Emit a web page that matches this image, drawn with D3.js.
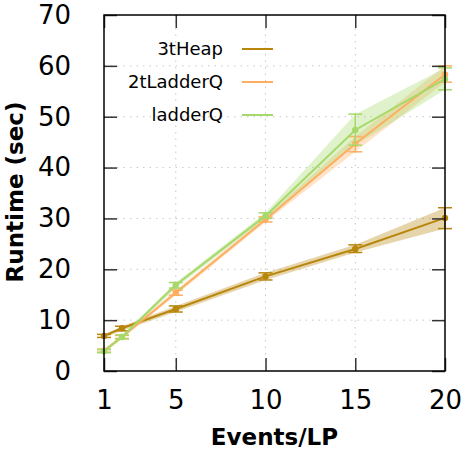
<!DOCTYPE html>
<html><head><meta charset="utf-8">
<script src="https://cdn.jsdelivr.net/npm/d3@7"></script>
<style>body{margin:0;background:#fff}svg{display:block}</style>
</head><body>
<svg id="c" width="467" height="450"></svg>
<script>
const xs = [1, 2, 5, 10, 15, 20];
const seriesNames = ["3tHeap", "2tLadderQ", "ladderQ"];
const heapMean = [6.9, 8.4, 12.2, 18.6, 24.0, 30.1];
const heapLo   = [6.6, 7.9, 11.6, 17.9, 23.3, 28.0];
const heapHi   = [7.2, 8.8, 12.8, 19.3, 24.8, 32.1];
const tlqMean  = [4.0, 6.7, 15.4, 29.8, 44.7, 58.3];
const tlqLo    = [3.7, 6.4, 14.9, 29.3, 43.1, 56.8];
const tlqHi    = [4.3, 7.0, 15.9, 30.3, 46.1, 60.0];
const lqMean   = [3.9, 6.7, 16.9, 30.5, 47.4, 57.4];
const lqLo     = [3.6, 6.3, 16.3, 30.0, 44.4, 55.3];
const lqHi     = [4.2, 7.1, 17.4, 31.1, 50.5, 59.6];
const xTicks = [1, 5, 10, 15, 20];
const yTicks = [0, 10, 20, 30, 40, 50, 60, 70];
const colors = ["#b8860b", "#fdae61", "#a6d96a"];

const series = [
  {name: seriesNames[0], mean: heapMean, lo: heapLo, hi: heapHi, color: colors[0]},
  {name: seriesNames[1], mean: tlqMean, lo: tlqLo, hi: tlqHi, color: colors[1]},
  {name: seriesNames[2], mean: lqMean, lo: lqLo, hi: lqHi, color: colors[2]}
];

const L = 104, R = 445, T = 15, B = 371;
const svg = d3.select("#c");
const x = d3.scaleLinear().domain([1, 20]).range([L, R]);
const y = d3.scaleLinear().domain([0, 70]).range([B, T]);
const font = "DejaVu Sans";

// grid
const g = svg.append("g");
g.selectAll(".gx").data(xTicks.slice(1, -1)).enter().append("line")
  .attr("x1", d => x(d)).attr("x2", d => x(d)).attr("y1", T).attr("y2", B)
  .attr("stroke", "#c8c8c8").attr("stroke-width", 1).attr("stroke-dasharray", "1.5,5");
g.selectAll(".gy").data(yTicks.slice(1, -1)).enter().append("line")
  .attr("y1", d => y(d)).attr("y2", d => y(d)).attr("x1", L).attr("x2", R)
  .attr("stroke", "#c8c8c8").attr("stroke-width", 1).attr("stroke-dasharray", "1.5,5");

// bands
series.forEach(s => {
  const area = d3.area().x((d, i) => x(xs[i])).y0((d, i) => y(s.lo[i])).y1((d, i) => y(s.hi[i]));
  svg.append("path").datum(s.mean).attr("d", area).attr("fill", s.color).attr("fill-opacity", 0.35);
});

// lines, error bars, points
series.forEach(s => {
  const line = d3.line().x((d, i) => x(xs[i])).y(d => y(d));
  svg.append("path").datum(s.mean).attr("d", line).attr("fill", "none")
    .attr("stroke", s.color).attr("stroke-width", 2);
  const eg = svg.append("g").attr("stroke", s.color).attr("stroke-width", 1.5);
  xs.forEach((xv, i) => {
    const cx = x(xv);
    eg.append("line").attr("x1", cx).attr("x2", cx).attr("y1", y(s.lo[i])).attr("y2", y(s.hi[i]));
    eg.append("line").attr("x1", cx - 7).attr("x2", cx + 7).attr("y1", y(s.lo[i])).attr("y2", y(s.lo[i]));
    eg.append("line").attr("x1", cx - 7).attr("x2", cx + 7).attr("y1", y(s.hi[i])).attr("y2", y(s.hi[i]));
  });
  svg.append("g").selectAll("circle").data(s.mean).enter().append("circle")
    .attr("cx", (d, i) => x(xs[i])).attr("cy", d => y(d)).attr("r", 3.2).attr("fill", s.color);
});

// axes (inward ticks, mirrored)
const tl = 13;
const xb = svg.append("g").attr("transform", `translate(0,${B})`)
  .call(d3.axisBottom(x).tickValues(xTicks).tickSizeInner(-tl).tickSizeOuter(0).tickPadding(22));
const xt = svg.append("g").attr("transform", `translate(0,${T})`)
  .call(d3.axisTop(x).tickValues(xTicks).tickSizeInner(-tl).tickSizeOuter(0).tickFormat(""));
const yl = svg.append("g").attr("transform", `translate(${L},0)`)
  .call(d3.axisLeft(y).tickValues(yTicks).tickSizeInner(-tl).tickSizeOuter(0).tickPadding(33));
const yr = svg.append("g").attr("transform", `translate(${R},0)`)
  .call(d3.axisRight(y).tickValues(yTicks).tickSizeInner(-tl).tickSizeOuter(0).tickFormat(""));
[xb, xt, yl, yr].forEach(a => {
  a.select(".domain").remove();
  a.selectAll(".tick line").attr("stroke", "#333").attr("stroke-width", 1.5);
  a.selectAll("text").attr("font-family", font).attr("font-size", 26).attr("fill", "#000");
});
xb.selectAll("text").attr("dy", "0.71em").attr("y", 20);

// border
svg.append("rect").attr("x", L).attr("y", T).attr("width", R - L).attr("height", B - T)
  .attr("fill", "none").attr("stroke", "#000").attr("stroke-width", 1.5);

// axis labels
svg.append("text").attr("x", (L + R) / 2).attr("y", 445).attr("text-anchor", "middle")
  .attr("font-family", font).attr("font-weight", "bold").attr("font-size", 23).text("Events/LP");
svg.append("text").attr("transform", `translate(23,192) rotate(-90)`).attr("text-anchor", "middle")
  .attr("font-family", font).attr("font-weight", "bold").attr("font-size", 23).text("Runtime (sec)");

// legend
const lg = svg.append("g");
series.forEach((s, i) => {
  const ly = 49 + i * 33;
  lg.append("text").attr("x", 223).attr("y", ly).attr("dy", "0.35em").attr("text-anchor", "end")
    .attr("font-family", font).attr("font-size", 18).text(s.name);
  lg.append("line").attr("x1", 242).attr("x2", 273).attr("y1", ly).attr("y2", ly)
    .attr("stroke", s.color).attr("stroke-width", 2);
});
</script>
</body></html>
